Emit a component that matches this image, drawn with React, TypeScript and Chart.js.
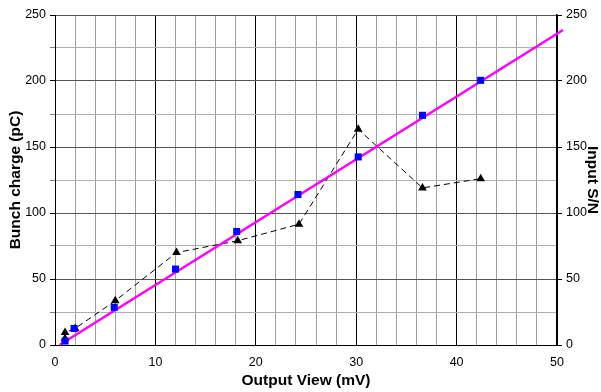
import React, { useEffect, useRef } from "react";
import { Chart, registerables } from "chart.js";

Chart.register(...registerables);

// Bunch charge (pC) vs output view (mV)
const chargeX = [1, 1.9, 5.9, 12, 18.1, 24.2, 30.2, 36.6, 42.4];
const chargeY = [3, 12.5, 28.5, 57.5, 86, 114, 142.5, 174, 200.5];
// Input S/N vs output view (mV)
const snX = [1, 1, 2, 6, 12.1, 18.2, 24.3, 30.2, 36.6, 42.4];
const snY = [5, 9.5, 12.5, 33.5, 70, 79, 91.5, 163.5, 119, 126];
// Linear trend line end points
const trendX = [0.45, 50.6];
const trendY = [0, 238.6];

const xTicks = [0, 10, 20, 30, 40, 50];
const yTicks = [0, 50, 100, 150, 200, 250];

const FONT = "'Liberation Sans', Arial, sans-serif";
const TICK_SIZE = 12.5;
const TITLE_SIZE = 15.5;

export default function App() {
  const ref = useRef<HTMLCanvasElement | null>(null);

  useEffect(() => {
    if (!ref.current) return;
    const pts = (xs: number[], ys: number[]) => xs.map((x, i) => ({ x, y: ys[i] }));
    const chart = new Chart(ref.current, {
      type: "scatter",
      data: {
        datasets: [
          {
            label: "Bunch charge",
            data: pts(chargeX, chargeY),
            pointStyle: "rect",
            pointRadius: 5,
            pointBackgroundColor: "#0000FF",
            pointBorderColor: "#0000FF",
            pointBorderWidth: 0,
            showLine: false,
            order: 0,
            yAxisID: "y",
          },
          {
            label: "Trend",
            data: pts(trendX, trendY),
            showLine: true,
            borderColor: "#FF00FF",
            borderWidth: 2.5,
            pointRadius: 0,
            clip: false as any,
            order: 1,
            yAxisID: "y",
          },
          {
            label: "Input S/N",
            data: pts(snX, snY),
            showLine: true,
            borderColor: "#000000",
            borderWidth: 1,
            borderDash: [6, 4],
            pointStyle: "triangle",
            pointRadius: 5,
            pointBackgroundColor: "#000000",
            pointBorderColor: "#000000",
            pointBorderWidth: 0,
            order: 2,
            yAxisID: "y2",
          },
        ],
      },
      options: {
        animation: false,
        responsive: false,
        layout: { padding: { top: 15, left: 0, right: 0, bottom: 0 } },
        plugins: { legend: { display: false }, tooltip: { enabled: false } },
        scales: {
          x: {
            type: "linear",
            min: 0,
            max: 50,
            afterFit: (s: any) => { s.height = 47; },
            ticks: {
              stepSize: 2,
              autoSkip: false,
              maxRotation: 0,
              padding: 10,
              color: "#000",
              font: { family: FONT, size: TICK_SIZE },
              callback: (v: any) => (xTicks.includes(Number(v)) ? String(v) : ""),
            },
            grid: {
              drawTicks: false,
              color: (c: any) => (c.tick && c.tick.value % 10 === 0 ? "#000000" : "#a0a0a0"),
            },
            border: { color: "#000", width: 1 },
            title: {
              display: true,
              text: "Output View (mV)",
              color: "#000",
              font: { family: FONT, size: TITLE_SIZE, weight: "bold" },
              padding: { top: 0, bottom: 2 },
            },
          },
          y: {
            type: "linear",
            position: "left",
            min: 0,
            max: 250,
            afterFit: (s: any) => { s.width = 55; },
            ticks: {
              stepSize: 25,
              autoSkip: false,
              padding: 4,
              color: "#000",
              font: { family: FONT, size: TICK_SIZE },
              callback: (v: any) => (yTicks.includes(Number(v)) ? String(v) : ""),
            },
            grid: {
              tickLength: 5,
              color: (c: any) => (c.tick && c.tick.value % 50 === 0 ? "#555555" : "#b0b0b0"),
              tickColor: (c: any) => (c.tick && c.tick.value % 50 === 0 ? "#000000" : "#808080"),
            },
            border: { color: "#000", width: 1 },
            title: {
              display: true,
              text: "Bunch charge (pC)",
              color: "#000",
              font: { family: FONT, size: TITLE_SIZE, weight: "bold" },
              padding: { top: 6, bottom: 0 },
            },
          },
          y2: {
            type: "linear",
            position: "right",
            min: 0,
            max: 250,
            afterFit: (s: any) => { s.width = 44; },
            ticks: {
              stepSize: 25,
              autoSkip: false,
              padding: 4,
              color: "#000",
              font: { family: FONT, size: TICK_SIZE },
              callback: (v: any) => (yTicks.includes(Number(v)) ? String(v) : ""),
            },
            grid: {
              drawOnChartArea: false,
              tickLength: 5,
              tickColor: (c: any) => (c.tick && c.tick.value % 50 === 0 ? "#000000" : "rgba(0,0,0,0)"),
            },
            border: { color: "#000", width: 1.5 },
            title: {
              display: true,
              text: "Input S/N",
              color: "#000",
              font: { family: FONT, size: TITLE_SIZE, weight: "bold" },
              padding: { top: -1, bottom: 0 },
            },
          },
        },
      },
    });
    return () => chart.destroy();
  }, []);

  return (
    <div style={{ position: "absolute", left: 0, top: 0, width: 601, height: 392, background: "#fff" }}>
      <canvas ref={ref} width={601} height={392} style={{ display: "block" }} />
    </div>
  );
}
